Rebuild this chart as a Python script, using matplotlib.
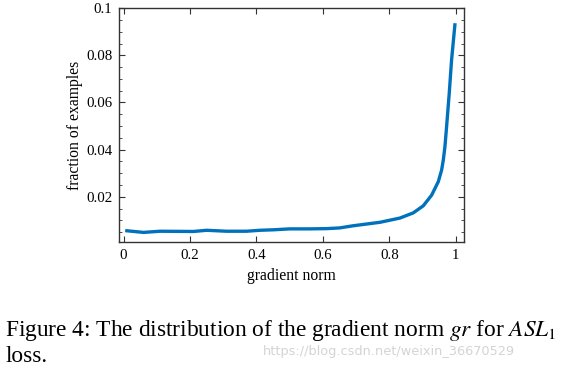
import numpy as np
import matplotlib
matplotlib.use("Agg")
import matplotlib.pyplot as plt
from matplotlib.ticker import MultipleLocator, FixedLocator

plt.rcParams['font.family'] = ['Liberation Serif', 'DejaVu Serif']
plt.rcParams['mathtext.fontset'] = 'stix'

# values
grad_norm = [0.01, 0.06, 0.11, 0.21, 0.25, 0.31, 0.37, 0.41, 0.45, 0.50,
             0.56, 0.61, 0.65, 0.69, 0.772, 0.832, 0.872, 0.902, 0.927,
             0.947, 0.957, 0.962, 0.967, 0.972, 0.980, 0.987, 0.997]
fraction = [0.0056, 0.0049, 0.0054, 0.0053, 0.0058, 0.0054, 0.0054, 0.0058,
            0.0060, 0.0064, 0.0064, 0.0065, 0.0068, 0.0077, 0.0092, 0.0110,
            0.0132, 0.0162, 0.0207, 0.0264, 0.0313, 0.0355, 0.0412, 0.0497,
            0.0639, 0.0780, 0.0929]
x_ticks = [0, 0.2, 0.4, 0.6, 0.8, 1]
x_labels = ['0', '0.2', '0.4', '0.6', '0.8', '1']
y_ticks = [0.02, 0.04, 0.06, 0.08, 0.1]
y_labels = ['0.02', '0.04', '0.06', '0.08', '0.1']

fig = plt.figure(figsize=(5.65, 3.70), dpi=100)
ax = fig.add_axes([0.211, 0.347, 0.610, 0.631])
ax.plot(grad_norm, fraction, color='#0072BD', lw=2.4, solid_joinstyle='round')

ax.set_xlim(-0.013, 1.024)
ax.set_ylim(0.001, 0.1)
ax.xaxis.set_major_locator(FixedLocator(x_ticks))
ax.set_xticklabels(x_labels)
ax.yaxis.set_major_locator(FixedLocator(y_ticks))
ax.set_yticklabels(y_labels)
ax.yaxis.set_minor_locator(MultipleLocator(0.005))
ax.tick_params(which='both', direction='in', top=True, right=True,
               labelsize=10.7, color='#333333', pad=5)
ax.tick_params(which='major', length=4)
ax.tick_params(which='minor', length=2.5)
for s in ax.spines.values():
    s.set_linewidth(1.0)
    s.set_color('#333333')

ax.set_xlabel('gradient norm', fontsize=11.3, labelpad=5)
ax.set_ylabel('fraction of examples', fontsize=11.3, labelpad=2)

# caption and watermark below the plot
fig.text(0.009, 1 - 336 / 370, 'Figure 4: The distribution of the gradient norm $gr$ for $ASL_1$',
         fontsize=16.8, va='baseline', ha='left')
fig.text(0.009, 1 - 362 / 370, 'loss.', fontsize=16.8, va='baseline', ha='left')
fig.text(0.465, 1 - 355 / 370, 'https://blog.csdn.net/weixin_36670529',
         fontsize=9.3, va='baseline', ha='left', color='#d4d4d4',
         family='DejaVu Sans')

fig.savefig('out.png', dpi=100)
